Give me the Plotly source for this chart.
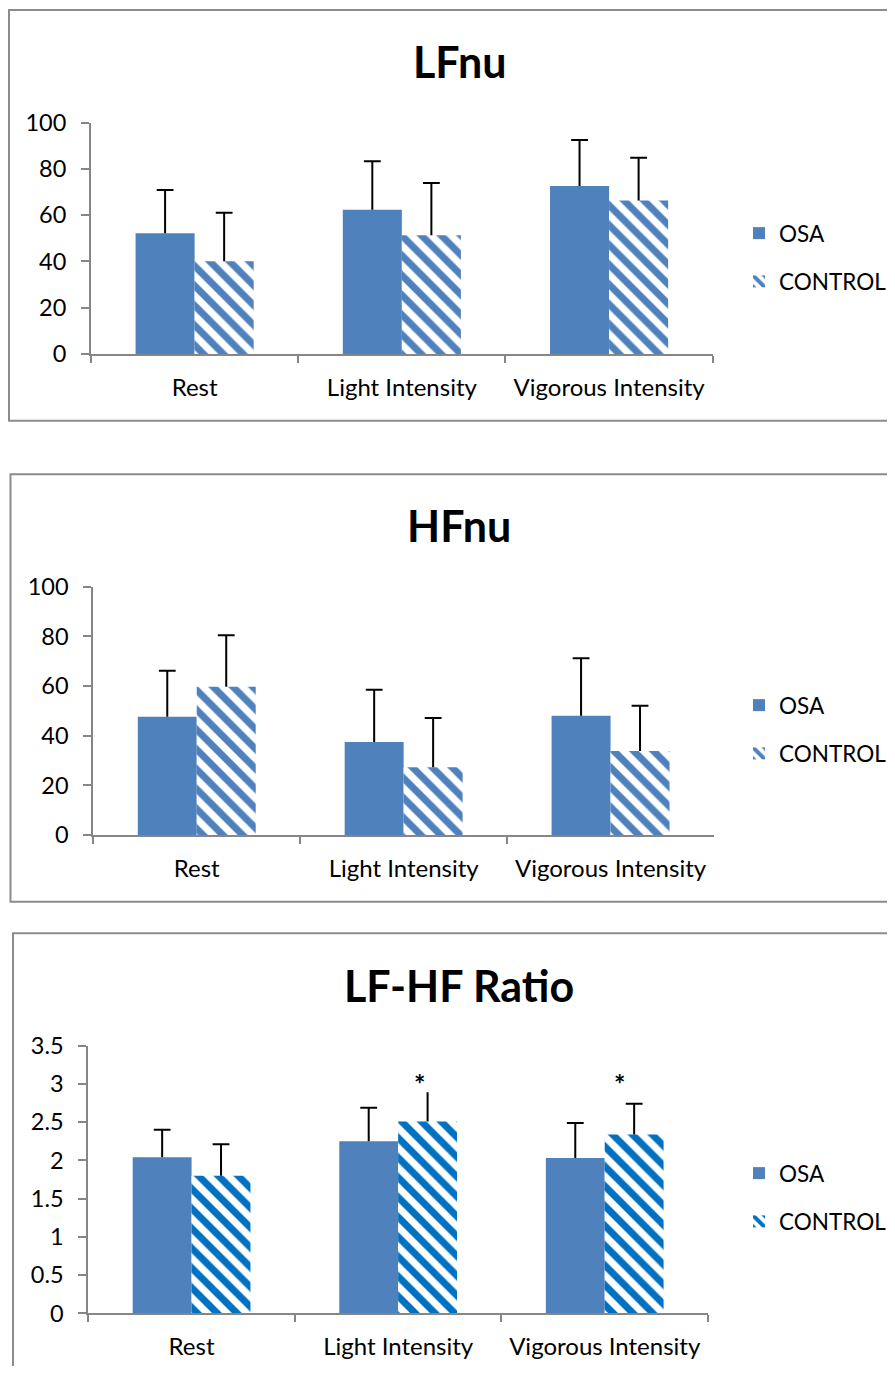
import plotly.graph_objects as go

categories = ["Rest", "Light Intensity", "Vigorous Intensity"]

# LFnu
lf_osa = [52.2, 62.4, 72.6]
lf_osa_err = [18.7, 20.9, 19.9]
lf_ctl = [40.1, 51.3, 66.4]
lf_ctl_err = [21.0, 22.6, 18.5]

# HFnu
hf_osa = [47.6, 37.5, 48.0]
hf_osa_err = [18.6, 21.0, 23.2]
hf_ctl = [59.7, 27.3, 33.8]
hf_ctl_err = [20.7, 19.8, 18.3]

# LF-HF Ratio
ratio_osa = [2.04, 2.25, 2.03]
ratio_osa_err = [0.36, 0.44, 0.46]
ratio_ctl = [1.80, 2.51, 2.34]
ratio_ctl_err = [0.41, 0.38, 0.40]
ratio_sig = [False, True, True]  # significance marker on CONTROL

titles = ["LFnu", "HFnu", "LF-HF Ratio"]
series_names = ["OSA", "CONTROL"]

# which error bars show a top cap (one has none in the original)
caps = [
    ([True, True, True], [True, True, True]),
    ([True, True, True], [True, True, True]),
    ([True, True, True], [True, False, True]),
]

# page geometry: the figure sits inside the body's 8px margin
PAGE_OFF = 8
FW, FH = 879, 1358
FONT = "Lato"
OSA_COLOR = "#4F81BD"
CTL_COLORS = ["#4F81BD", "#4F81BD", "#0070C0"]
AXIS_COLOR = "#868686"
BORDER_COLOR = "#8C8C8C"
STAR_XSHIFT = [0, 21, 15]
STAR_LEVEL = 3.0
BARGAP = 0.43


def px_x(p):
    return (p - PAGE_OFF) / FW


def px_y(p):
    return 1 - (p - PAGE_OFF) / FH


# panel geometry (page pixels): plot area, title, legend, border box
panels = [
    dict(x0=91, x1=712.7, yt=122.7, yb=354, title_y=61.5, leg_y=212,
         box=(9, 10, 420.7)),
    dict(x0=93.3, x1=714, yt=586.7, yb=835, title_y=525, leg_y=684,
         box=(10.5, 474.3, 901.7)),
    dict(x0=88.3, x1=708, yt=1045.7, yb=1313.3, title_y=985, leg_y=1152,
         box=(13, 933.3, 1420)),
]

data_sets = [
    (lf_osa, lf_osa_err, lf_ctl, lf_ctl_err, [0, 100], 20),
    (hf_osa, hf_osa_err, hf_ctl, hf_ctl_err, [0, 100], 20),
    (ratio_osa, ratio_osa_err, ratio_ctl, ratio_ctl_err, [0, 3.5], 0.5),
]

fig = go.Figure()
annotations = []
shapes = []
layout_extra = {}

for i, (p, ds) in enumerate(zip(panels, data_sets)):
    osa, osa_err, ctl, ctl_err, yrange, dtick = ds
    n = i + 1
    xa = "x" if n == 1 else f"x{n}"
    ya = "y" if n == 1 else f"y{n}"
    leg = "legend" if n == 1 else f"legend{n}"

    fig.add_trace(go.Bar(
        x=categories, y=osa, name=series_names[0],
        marker=dict(color=OSA_COLOR, line=dict(width=0)),
        error_y=dict(type="data", array=osa_err, arrayminus=[0] * 3,
                     symmetric=False, color="black", thickness=2, width=0),
        xaxis=xa, yaxis=ya, legend=leg, legendgroup=f"osa{n}",
        offsetgroup="osa",
    ))
    fig.add_trace(go.Bar(
        x=categories, y=ctl, name=series_names[1],
        marker=dict(color="white", line=dict(width=0),
                    pattern=dict(shape="\\", fgcolor=CTL_COLORS[i],
                                 bgcolor="white", size=14, solidity=0.5,
                                 fgopacity=1)),
        error_y=dict(type="data", array=ctl_err, arrayminus=[0] * 3,
                     symmetric=False, color="black", thickness=2, width=0),
        xaxis=xa, yaxis=ya, legend=leg, legendgroup=f"ctl{n}",
        offsetgroup="ctl",
    ))

    # caps at the top end of each error bar
    for vals, errs, cap, grp in ((osa, osa_err, caps[i][0], "osa"),
                                 (ctl, ctl_err, caps[i][1], "ctl")):
        fig.add_trace(go.Scatter(
            x=categories,
            y=[v + e if c else None for v, e, c in zip(vals, errs, cap)],
            mode="markers", showlegend=False, hoverinfo="skip",
            marker=dict(symbol="line-ew", size=12,
                        line=dict(width=2, color="black")),
            xaxis=xa, yaxis=ya, offsetgroup=grp,
        ))

    xkey = "xaxis" if n == 1 else f"xaxis{n}"
    ykey = "yaxis" if n == 1 else f"yaxis{n}"
    layout_extra[xkey] = dict(
        domain=[px_x(p["x0"]), px_x(p["x1"])], anchor=ya,
        showline=True, linecolor=AXIS_COLOR, linewidth=2,
        ticks="outside", tickson="boundaries", ticklen=7, tickwidth=2,
        tickcolor=AXIS_COLOR, showgrid=False, zeroline=False,
        tickfont=dict(family=FONT, size=24, color="black"),
        ticklabelstandoff=11, fixedrange=True, automargin=False,
    )
    layout_extra[ykey] = dict(
        domain=[px_y(p["yb"]), px_y(p["yt"])], anchor=xa,
        range=yrange, dtick=dtick, tick0=0,
        showline=True, linecolor=AXIS_COLOR, linewidth=2,
        ticks="outside", ticklen=8, tickwidth=2, tickcolor=AXIS_COLOR,
        showgrid=False, zeroline=False,
        tickfont=dict(family=FONT, size=23.5, color="black"),
        ticklabelstandoff=10, fixedrange=True, automargin=False,
    )
    layout_extra[leg] = dict(
        x=px_x(739), y=px_y(p["leg_y"]), xanchor="left", yanchor="top",
        font=dict(family=FONT, size=22.5, color="black"),
        traceorder="grouped", tracegroupgap=16,
        bgcolor="rgba(0,0,0,0)", borderwidth=0,
    )

    annotations.append(dict(
        text=f"<b>{titles[i]}</b>", x=px_x(459), y=px_y(p["title_y"]),
        xref="paper", yref="paper", xanchor="center", yanchor="middle",
        showarrow=False, font=dict(family=FONT, size=43, color="black"),
    ))

    bx, by0, by1 = p["box"]
    shapes.append(dict(
        type="rect", xref="paper", yref="paper",
        x0=px_x(bx), x1=px_x(960), y0=px_y(by1), y1=px_y(by0),
        line=dict(color=BORDER_COLOR, width=2), fillcolor="rgba(0,0,0,0)",
        layer="below",
    ))

# significance asterisks (LF-HF Ratio, CONTROL bars)
for cat, sig, xs in zip(categories, ratio_sig, STAR_XSHIFT):
    if sig:
        annotations.append(dict(
            text="<b>*</b>", x=cat, y=STAR_LEVEL, xref="x3", yref="y3",
            xshift=xs, xanchor="center", yanchor="middle", showarrow=False,
            font=dict(family=FONT, size=27, color="black"),
        ))

fig.update_layout(
    width=FW, height=FH,
    margin=dict(l=0, r=0, t=0, b=0, pad=0, autoexpand=False),
    paper_bgcolor="white", plot_bgcolor="white",
    barmode="group", bargap=BARGAP, bargroupgap=0,
    scattermode="group", scattergap=BARGAP,
    showlegend=True,
    annotations=annotations, shapes=shapes,
    font=dict(family=FONT, color="black"),
    **layout_extra,
)

fig.write_html("out.html")
